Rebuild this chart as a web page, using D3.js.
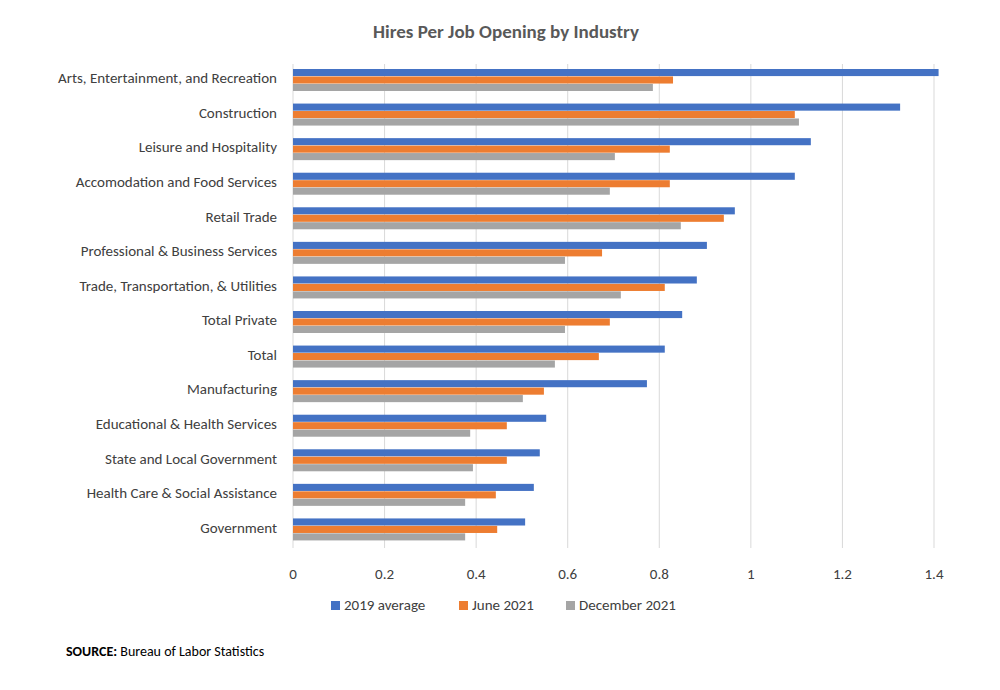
<!DOCTYPE html><html><head><meta charset="utf-8">
<script src="https://cdn.jsdelivr.net/npm/d3@7/dist/d3.min.js"></script>
<style>body{margin:0;background:#fff;font-family:Calibri,Carlito,"Open Sans",sans-serif}</style></head><body>
<svg id="c" width="1000" height="690"></svg>
<script>
const categories=["Arts, Entertainment, and Recreation","Construction","Leisure and Hospitality","Accomodation and Food Services","Retail Trade","Professional & Business Services","Trade, Transportation, & Utilities","Total Private","Total","Manufacturing","Educational & Health Services","State and Local Government","Health Care & Social Assistance","Government"];
const seriesNames=["2019 average","June 2021","December 2021"];
const avg2019=[1.41,1.326,1.131,1.096,0.965,0.904,0.882,0.85,0.812,0.773,0.553,0.539,0.526,0.507];
const june2021=[0.83,1.096,0.823,0.823,0.941,0.675,0.812,0.692,0.668,0.548,0.467,0.467,0.443,0.446];
const dec2021=[0.786,1.105,0.703,0.692,0.847,0.594,0.716,0.594,0.572,0.502,0.387,0.393,0.376,0.376];
const ticks=[0,0.2,0.4,0.6,0.8,1,1.2,1.4];
const colors=["#4472C4","#ED7D31","#A5A5A5"];
const svg=d3.select("#c");
const x=d3.scaleLinear().domain([0,1.4]).range([293,934]);
const y=d3.scaleBand().domain(categories).range([64,548]);
const sub=d3.scaleBand().domain(seriesNames).range([0,22]).paddingInner(0.05);
svg.append("text").attr("x",506).attr("y",38).attr("text-anchor","middle").attr("font-size",19).attr("font-weight","bold").attr("fill","#595959").text("Hires Per Job Opening by Industry");
svg.append("g").selectAll("line").data(ticks).join("line").attr("x1",d=>x(d)).attr("x2",d=>x(d)).attr("y1",64).attr("y2",548).attr("stroke","#d9d9d9");
svg.append("g").selectAll("text").data(ticks).join("text").attr("x",d=>x(d)).attr("y",579).attr("text-anchor","middle").attr("font-size",15).attr("fill","#404040").text(d=>d);
const data=[avg2019,june2021,dec2021];
data.forEach((arr,i)=>{
 svg.append("g").selectAll("rect").data(arr).join("rect").attr("x",x(0)).attr("y",(d,j)=>y(categories[j])+5+sub(seriesNames[i])).attr("height",sub.bandwidth()).attr("width",d=>x(d)-x(0)).attr("fill",colors[i]);
});
svg.append("g").selectAll("text").data(categories).join("text").attr("x",277).attr("y",d=>y(d)+y.bandwidth()/2+2).attr("text-anchor","end").attr("font-size",15).attr("fill","#404040").text(d=>d);
const lx=[331,459,566];
seriesNames.forEach((s,i)=>{
 svg.append("rect").attr("x",lx[i]).attr("y",601).attr("width",9).attr("height",9).attr("fill",colors[i]);
 svg.append("text").attr("x",lx[i]+13).attr("y",610).attr("font-size",15).attr("fill","#404040").text(s);
});
const t=svg.append("text").attr("x",66).attr("y",656).attr("font-size",14).attr("fill","#000");
t.append("tspan").attr("font-weight","bold").text("SOURCE:");
t.append("tspan").text(" Bureau of Labor Statistics");
</script></body></html>
